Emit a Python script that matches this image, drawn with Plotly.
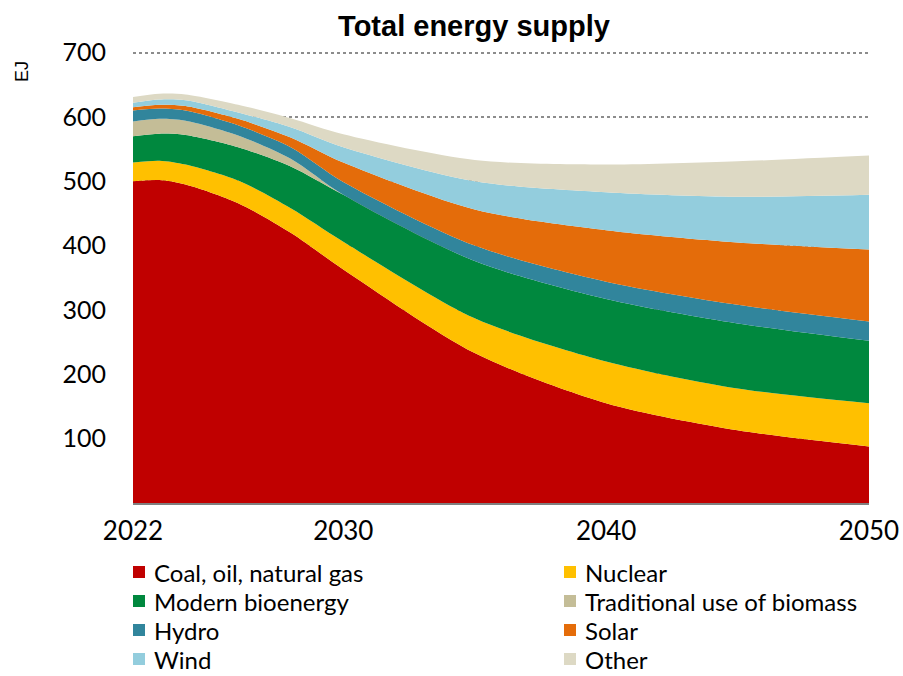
import plotly.graph_objects as go

# Total energy supply by source (EJ)
years = [2022, 2023, 2024, 2026, 2028, 2030, 2035, 2040, 2045, 2050]
fossil = [500, 502, 495, 466, 420, 363, 233, 155, 113, 88]
nuclear = [29, 30, 31, 35, 38, 43, 54, 65, 65, 67]
modern_bio = [41, 42, 46, 52, 65, 73, 89, 97, 101, 97]
traditional_biomass = [23, 23, 22, 18, 12, 0, 0, 0, 0, 0]
hydro = [17, 16, 16, 16, 18, 20, 24, 27, 29, 30]
solar = [5, 6, 7, 10, 15, 30, 56, 80, 97, 112]
wind = [7, 8, 9, 10, 16, 24, 44, 59, 71, 85]
other = [9, 9, 9, 12, 14, 20, 33, 43, 55, 61]

series_names = ["Coal, oil, natural gas", "Nuclear", "Modern bioenergy",
                "Traditional use of biomass", "Hydro", "Solar", "Wind", "Other"]
series_values = [fossil, nuclear, modern_bio, traditional_biomass,
                 hydro, solar, wind, other]
series_colors = ["#C00000", "#FFC000", "#00883E", "#C4BD97",
                 "#31859C", "#E46C0A", "#93CDDD", "#DDD9C4"]

x_ticks = [2022, 2030, 2040, 2050]
y_ticks = [100, 200, 300, 400, 500, 600, 700]

W, H = 903, 676
ML, MR, MT, MB = 133, 34, 50, 173
PW, PH = W - ML - MR, H - MT - MB

TEXT_FONT = "Lato, Carlito, Calibri, sans-serif"
TITLE_FONT = "Liberation Sans, Arial, sans-serif"


def px_to_paper_x(px):
    return (px - ML) / PW


def px_to_paper_y(py):
    return (H - MB - py) / PH


fig = go.Figure()
for name, vals, col in zip(series_names, series_values, series_colors):
    fig.add_trace(go.Scatter(
        x=years, y=vals, name=name, stackgroup="supply",
        mode="lines", line=dict(width=0, shape="spline", smoothing=0.8),
        fillcolor=col, showlegend=False, hoverinfo="x+y+name",
    ))

# Two-column legend: square swatch followed by the series name
shapes = []
annotations = []
col_x = [139, 570]
row_y = [572, 601, 630, 659]
for i, (name, col) in enumerate(zip(series_names, series_colors)):
    cx = col_x[i % 2]
    cy = row_y[i // 2]
    shapes.append(dict(type="rect", xref="paper", yref="paper",
                       x0=px_to_paper_x(cx - 6), x1=px_to_paper_x(cx + 6),
                       y0=px_to_paper_y(cy + 6), y1=px_to_paper_y(cy - 6),
                       fillcolor=col, line=dict(width=0), layer="above"))
    annotations.append(dict(text=name, xref="paper", yref="paper",
                            x=px_to_paper_x(cx + 14), y=px_to_paper_y(cy),
                            xanchor="left", yanchor="middle", showarrow=False,
                            borderpad=0,
                            font=dict(family=TEXT_FONT, size=24, color="black")))

annotations.append(dict(text="EJ", xref="paper", yref="paper",
                        x=px_to_paper_x(22), y=px_to_paper_y(72),
                        xanchor="center", yanchor="middle", textangle=-90,
                        showarrow=False,
                        font=dict(family=TITLE_FONT, size=18, color="black")))

fig.update_layout(
    width=W, height=H,
    margin=dict(l=ML, r=MR, t=MT, b=MB),
    paper_bgcolor="white", plot_bgcolor="white",
    font=dict(family=TEXT_FONT, size=24, color="black"),
    title=dict(text="<b>Total energy supply</b>", x=474 / W, xanchor="center",
               y=1 - 26 / H, yanchor="middle",
               font=dict(family=TITLE_FONT, size=29, color="black")),
    showlegend=False,
    xaxis=dict(range=[2022, 2050], tickvals=x_ticks, ticks="", showgrid=False,
               zeroline=False, showline=True, linecolor="#7f7f7f", linewidth=1.5,
               automargin=False, ticklabelstandoff=4,
               tickfont=dict(family=TEXT_FONT, size=26)),
    yaxis=dict(range=[0, 704], tickvals=y_ticks, showgrid=True,
               gridcolor="#8c8c8c", gridwidth=2, griddash="3px,3px",
               zeroline=False, showline=False, ticks="", ticklabelstandoff=26,
               automargin=False, tickfont=dict(family=TEXT_FONT, size=25)),
    shapes=shapes,
    annotations=annotations,
)

fig.write_html("out.html")
